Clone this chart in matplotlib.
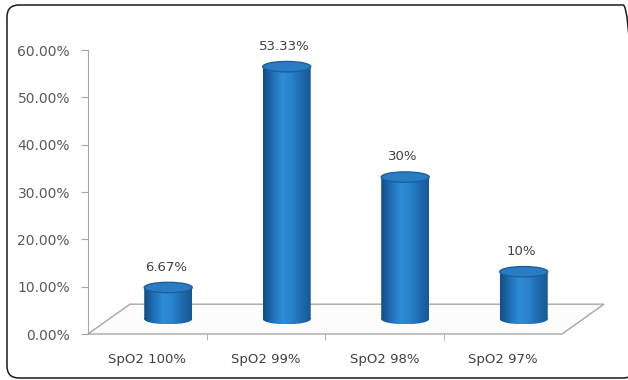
import matplotlib
matplotlib.use("Agg")
import matplotlib.pyplot as plt
import numpy as np
from matplotlib.patches import Polygon, Ellipse, PathPatch, FancyBboxPatch
from matplotlib.path import Path
from matplotlib.colors import LinearSegmentedColormap
import matplotlib.transforms as mtransforms

# SpO2 distribution
categories = ["SpO2 100%", "SpO2 99%", "SpO2 98%", "SpO2 97%"]
values = [6.67, 53.33, 30, 10]
yticks = [0, 10, 20, 30, 40, 50, 60]
ytick_labels = ["%.2f%%" % t for t in yticks]

plt.rcParams['font.family'] = ['DejaVu Sans']

fig = plt.figure(figsize=(6.28, 3.8), dpi=100)
ax = fig.add_axes([88 / 628, 46 / 380, 474 / 628, 284 / 380])
ax.set_xlim(-0.5, len(categories) - 0.5)
ax.set_ylim(0, 60)

# depth of the 3d floor (x in category units, y in percent)
dx = 0.354
dy = 6.3
w = 0.405      # cylinder width
eh = 2.2       # ellipse height

gridc = '#a6a6a6'

# floor
n = len(categories)
floor = Polygon([(-0.5, 0), (n - 0.5, 0), (n - 0.5 + dx, dy), (-0.5 + dx, dy)],
                closed=True, facecolor='#fcfcfc', edgecolor=gridc, lw=1.0,
                clip_on=False, zorder=1)
ax.add_patch(floor)

cmap = LinearSegmentedColormap.from_list(
    'cyl', ['#144d86', '#1f6fb6', '#2d8dd6', '#2983cb', '#1e6bb0', '#185895'])
grad = np.linspace(0, 1, 64).reshape(1, -1)

for i, v in enumerate(values):
    cx = i + dx / 2
    base = dy / 2
    top = base + v
    # body = rectangle + bottom half ellipse
    rect = Path([(cx - w / 2, base), (cx + w / 2, base), (cx + w / 2, top),
                 (cx - w / 2, top), (cx - w / 2, base)],
                [Path.MOVETO, Path.LINETO, Path.LINETO, Path.LINETO, Path.CLOSEPOLY])
    bottom = Ellipse((cx, base), w, eh)
    bpath = bottom.get_patch_transform().transform_path(bottom.get_path())
    body = PathPatch(Path.make_compound_path(rect, bpath), facecolor='none',
                     edgecolor='none', transform=ax.transData, clip_on=False)
    ax.add_patch(body)
    im = ax.imshow(grad, cmap=cmap, aspect='auto', zorder=3,
                   extent=(cx - w / 2, cx + w / 2, base - eh / 2, top),
                   interpolation='bilinear')
    im.set_clip_path(body)
    ax.add_patch(Ellipse((cx, top), w, eh, facecolor='#2a7cc2',
                         edgecolor='#1b5f9f', lw=1.0, zorder=4, clip_on=False))
    ax.text(cx - 0.02, top + 4.3, "%g%%" % v, ha='center', va='center',
            fontsize=9.5, color='#404040', zorder=5, clip_on=False)

ax.set_xticks(range(n))
ax.set_xticklabels(categories, fontsize=9.5, color='#404040')
ax.set_xticks([i + 0.5 for i in range(n - 1)], minor=True)
ax.tick_params(axis='x', which='major', length=0, pad=14)
ax.tick_params(axis='x', which='minor', length=4, color=gridc, direction='out')

ax.set_yticks(yticks)
ax.set_yticklabels(ytick_labels, fontsize=10, color='#595959')
ax.tick_params(axis='y', length=5, color=gridc, direction='out', pad=8)

for s in ['top', 'right', 'bottom']:
    ax.spines[s].set_visible(False)
ax.spines['left'].set_color(gridc)
ax.patch.set_alpha(0)

# rounded frame around the chart (right side runs off the edge)
frame = FancyBboxPatch((7, 2), 628, 373,
                       boxstyle="round,pad=0,rounding_size=12",
                       transform=mtransforms.IdentityTransform(),
                       facecolor='none', edgecolor='#1a1a1a', lw=1.1)
fig.add_artist(frame)

plt.savefig('out.png', dpi=100)
